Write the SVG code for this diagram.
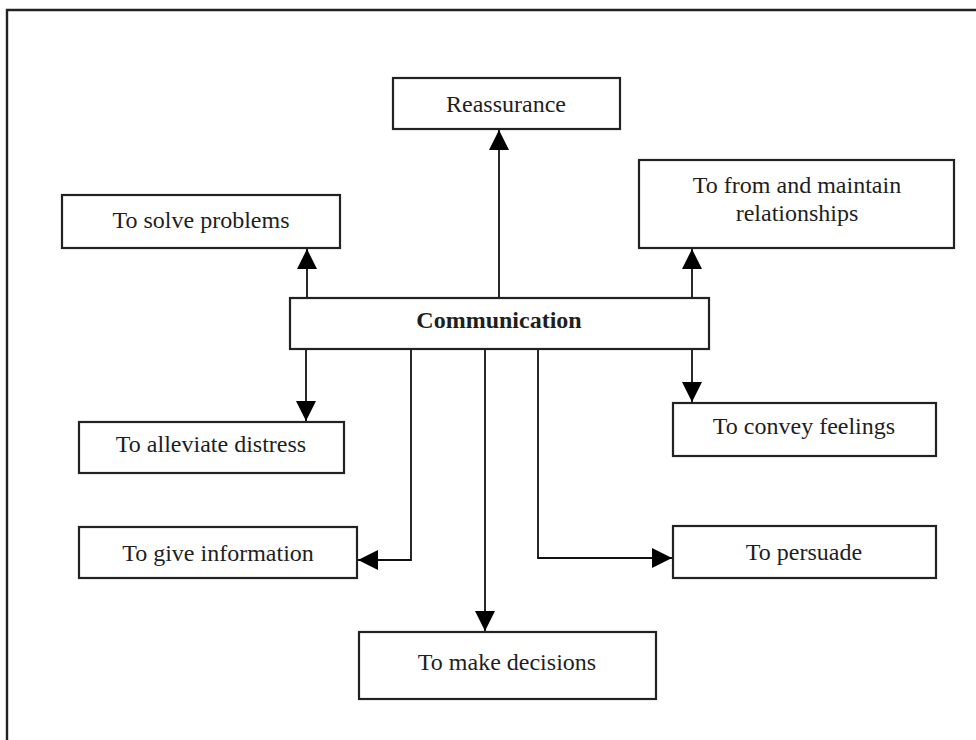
<svg xmlns="http://www.w3.org/2000/svg" width="976" height="740" viewBox="0 0 976 740">
  <style>
    .box { fill: #ffffff; stroke: #222222; stroke-width: 2.2; }
    .lbl { font-family: "Liberation Serif", "Times New Roman", serif; font-size: 24px; fill: #1e1e1e; text-anchor: middle; }
    .bold { font-weight: bold; }
    .conn { fill: none; stroke: #111111; stroke-width: 1.8; }
    .frame { fill: none; stroke: #222222; stroke-width: 2.4; }
  </style>
  <defs>
    <marker id="arrow" markerUnits="userSpaceOnUse" markerWidth="20" markerHeight="20" viewBox="0 0 20 20" refX="20" refY="10" orient="auto">
      <path d="M0,0 L20,10 L0,20 z" fill="#000000"/>
    </marker>
  </defs>
  <rect x="0" y="0" width="976" height="740" fill="#ffffff"/>
  <path class="frame" d="M7,745 V10 H980"/>

  <g id="connectors">
    <path class="conn" d="M307,298 V249" marker-end="url(#arrow)"/>
    <path class="conn" d="M499,298 V130" marker-end="url(#arrow)"/>
    <path class="conn" d="M692,298 V249" marker-end="url(#arrow)"/>
    <path class="conn" d="M306,349 V421" marker-end="url(#arrow)"/>
    <path class="conn" d="M411,349 V560 H358" marker-end="url(#arrow)"/>
    <path class="conn" d="M485,349 V631" marker-end="url(#arrow)"/>
    <path class="conn" d="M538,349 V558 H672" marker-end="url(#arrow)"/>
    <path class="conn" d="M692,349 V402" marker-end="url(#arrow)"/>
  </g>

  <g id="reassurance">
    <rect class="box" x="393" y="78" width="227" height="51"/>
    <text class="lbl" x="506" y="112">Reassurance</text>
  </g>
  <g id="solve-problems">
    <rect class="box" x="62" y="195" width="278" height="53"/>
    <text class="lbl" x="201" y="228">To solve problems</text>
  </g>
  <g id="relationships">
    <rect class="box" x="639" y="160" width="315" height="88"/>
    <text class="lbl" x="797" y="193">To from and maintain</text>
    <text class="lbl" x="797" y="221">relationships</text>
  </g>
  <g id="communication">
    <rect class="box" x="290" y="298" width="419" height="51"/>
    <text class="lbl bold" x="499" y="328">Communication</text>
  </g>
  <g id="alleviate-distress">
    <rect class="box" x="79" y="422" width="265" height="51"/>
    <text class="lbl" x="211" y="452">To alleviate distress</text>
  </g>
  <g id="convey-feelings">
    <rect class="box" x="673" y="403" width="263" height="53"/>
    <text class="lbl" x="804" y="434">To convey feelings</text>
  </g>
  <g id="give-information">
    <rect class="box" x="79" y="527" width="278" height="51"/>
    <text class="lbl" x="218" y="561">To give information</text>
  </g>
  <g id="persuade">
    <rect class="box" x="673" y="526" width="263" height="52"/>
    <text class="lbl" x="804" y="560">To  persuade</text>
  </g>
  <g id="make-decisions">
    <rect class="box" x="359" y="632" width="297" height="67"/>
    <text class="lbl" x="507" y="670">To make decisions</text>
  </g>
</svg>
